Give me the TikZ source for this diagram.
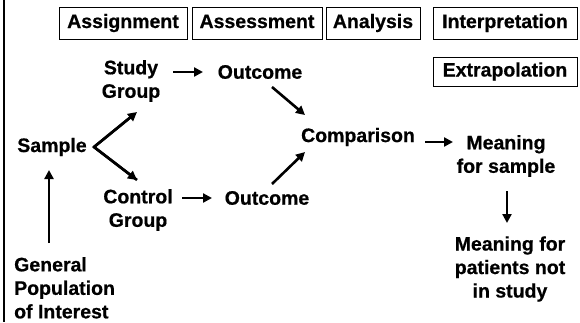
\documentclass[tikz,border=0pt]{standalone}
\usepackage{fontspec}
\setmainfont[BoldFeatures={FakeBold=0.6}]{Liberation Sans}
\usetikzlibrary{arrows.meta,calc}
\begin{document}
\begin{tikzpicture}[x=1pt,y=-1pt,
  lab/.style={font=\fontsize{19.5}{23.5}\selectfont\bfseries, align=center, inner sep=0pt},
  hdr/.style={draw, line width=1pt, font=\fontsize{19.5}{23}\selectfont\bfseries, minimum height=32pt, inner sep=0pt, text height=14pt, text depth=4pt},
  arr/.style={line width=2.6pt, -{Triangle[length=9pt,width=9pt]}}]
\useasboundingbox (0,0) rectangle (580,322);
\fill[white] (0,0) rectangle (580,322);
\draw[line width=2pt] (4,0) -- (4,322);
% header boxes
\node[hdr, minimum width=128pt] (asg) at (123,23) {Assignment};
\node[hdr, minimum width=130pt] (ass) at (257,23) {Assessment};
\node[hdr, minimum width=94pt]  (ana) at (373,23) {Analysis};
\node[hdr, minimum width=144pt] (int) at (505,23) {Interpretation};
\node[hdr, minimum width=144pt, minimum height=29pt] (ext) at (505,71.5) {Extrapolation};
% labels
\node[lab] (sg)  at (131,81)  {Study\\Group};
\node[lab] (o1)  at (260,72)  {Outcome};
\node[lab] (sam) at (52,147)  {Sample};
\node[lab] (cg)  at (138,210) {Control\\Group};
\node[lab] (o2)  at (267,198) {Outcome};
\node[lab] (cmp) at (358,137) {Comparison};
\node[lab] (ms)  at (506,156) {Meaning\\for sample};
\node[lab] (mp)  at (510,269) {Meaning for\\patients not\\in study};
\node[lab, align=left, anchor=north west] (gp) at (14,257) {General\\Population\\of Interest};
% arrows
\draw[arr] ($(sg)+(42,-9)$) -- ($(o1)+(-57,0)$);
\draw[arr] ($(cg)+(44,-12)$) -- ($(o2)+(-55,0)$);
\draw[arr] ($(sam)+(42,0)$) -- ($(sg)+(6,31)$);
\draw[arr] ($(sam)+(42,0)$) -- ($(cg)+(-1,-30)$);
\draw[line width=2.6pt, line join=miter] ($(sg)+(6,31)$) ++(-5,4) -- ($(sam)+(42,0)$) -- ($(cg)+(-1,-30)$);
\draw[arr] ($(o1)+(12,15)$) -- ($(cmp)+(-53,-22)$);
\draw[arr] ($(o2)+(5,-14)$) -- ($(cmp)+(-53,15)$);
\draw[arr] ($(cmp)+(67,5)$) -- ($(ms)+(-53,-14)$);
\draw[arr] ($(ms)+(1,35)$) -- ($(mp)+(-3,-46)$);
\draw[arr] ($(gp.north west)+(35,-14)$) -- ($(sam)+(-3,23)$);
\end{tikzpicture}
\end{document}
